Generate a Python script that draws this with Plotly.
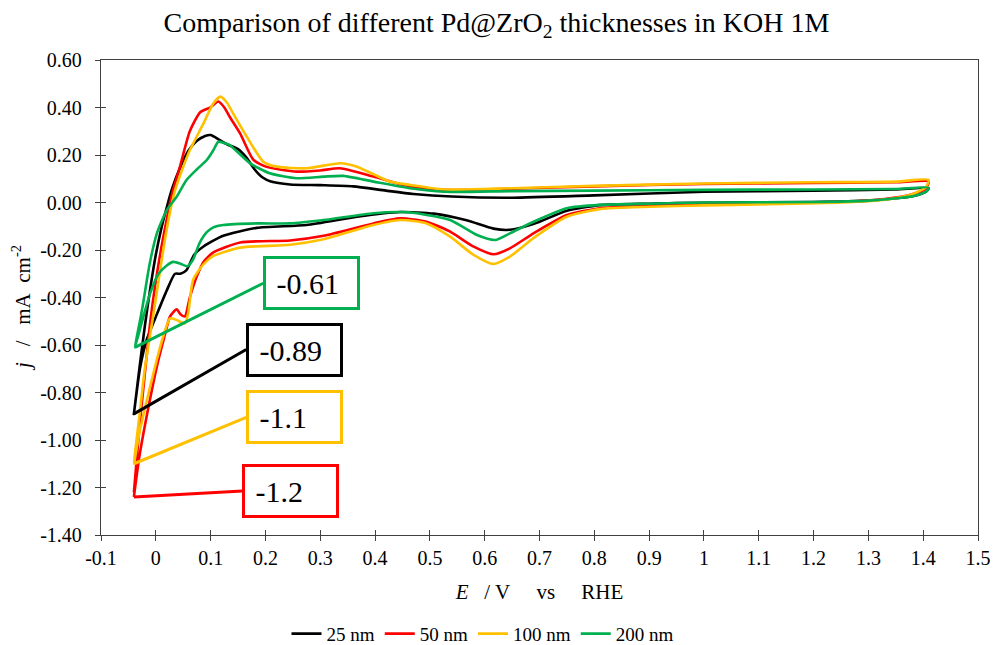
import plotly.graph_objects as go

# ---------------- data ----------------
names = ["25 nm", "50 nm", "100 nm", "200 nm"]
colors = ["#000000", "#FF0000", "#FFC000", "#00B050"]

e_25 = [-0.040, -0.030, -0.020, -0.010, 0.000, 0.010, 0.020, 0.030, 0.045, 0.060, 0.075, 0.090, 0.100,
        0.115, 0.130, 0.150, 0.165, 0.180, 0.195, 0.210, 0.245, 0.300, 0.360, 0.420, 0.470, 0.540, 0.650,
        0.800, 1.000, 1.200, 1.350, 1.410,
        1.405, 1.390, 1.360, 1.300, 1.200, 1.000, 0.900, 0.810, 0.750, 0.690, 0.646, 0.616, 0.567, 0.507,
        0.446, 0.367, 0.275, 0.184, 0.123, 0.087, 0.070, 0.056, 0.045, 0.035, 0.020, 0.002, -0.017,
        -0.029, -0.040]
j_25 = [-0.89, -0.70, -0.52, -0.36, -0.22, -0.11, -0.02, 0.06, 0.15, 0.22, 0.26, 0.28, 0.284,
        0.265, 0.245, 0.225, 0.19, 0.14, 0.105, 0.088, 0.076, 0.073, 0.068, 0.050, 0.036, 0.025, 0.020,
        0.030, 0.045, 0.050, 0.055, 0.060,
        0.045, 0.032, 0.020, 0.008, 0.002, -0.001, -0.005, -0.011, -0.035, -0.090, -0.115, -0.110, -0.075, -0.047,
        -0.040, -0.060, -0.095, -0.107, -0.140, -0.185, -0.220, -0.285, -0.300, -0.300, -0.370, -0.470, -0.580,
        -0.700, -0.890]

e_50 = [-0.040, -0.030, -0.020, -0.010, 0.000, 0.010, 0.020, 0.030, 0.044, 0.062, 0.081, 0.099, 0.114,
        0.125, 0.135, 0.154, 0.178, 0.202, 0.257, 0.300, 0.336, 0.397, 0.464, 0.525, 0.650, 0.800, 1.000,
        1.200, 1.350, 1.410,
        1.405, 1.380, 1.330, 1.250, 1.100, 1.000, 0.900, 0.810, 0.750, 0.689, 0.646, 0.616, 0.580, 0.537,
        0.494, 0.446, 0.397, 0.306, 0.245, 0.154, 0.105, 0.087, 0.075, 0.062, 0.053, 0.045, 0.038, 0.026,
        0.014, 0.002, -0.015, -0.030, -0.040]
j_50 = [-1.22, -0.95, -0.72, -0.50, -0.33, -0.19, -0.07, 0.04, 0.15, 0.30, 0.38, 0.40, 0.425,
        0.40, 0.36, 0.29, 0.18, 0.15, 0.13, 0.135, 0.144, 0.109, 0.067, 0.053, 0.058, 0.068, 0.078,
        0.082, 0.085, 0.088,
        0.060, 0.035, 0.015, 0.003, -0.005, -0.008, -0.015, -0.024, -0.053, -0.130, -0.193, -0.218, -0.186, -0.123,
        -0.081, -0.067, -0.088, -0.140, -0.160, -0.168, -0.210, -0.250, -0.310, -0.400, -0.480, -0.470, -0.450, -0.480,
        -0.580, -0.690, -0.880, -1.070, -1.240]

e_100 = [-0.040, -0.030, -0.020, -0.005, 0.005, 0.015, 0.025, 0.035, 0.050, 0.062, 0.087, 0.105, 0.118,
         0.130, 0.141, 0.166, 0.196, 0.221, 0.275, 0.336, 0.367, 0.427, 0.464, 0.525, 0.650, 0.800, 1.000,
         1.200, 1.350, 1.410,
         1.405, 1.380, 1.330, 1.250, 1.100, 1.000, 0.900, 0.810, 0.750, 0.689, 0.646, 0.616, 0.580, 0.537,
         0.494, 0.446, 0.397, 0.306, 0.245, 0.154, 0.105, 0.087, 0.068, 0.059, 0.053, 0.038, 0.026, 0.014,
         0.002, -0.015, -0.030, -0.040]
j_100 = [-1.10, -0.90, -0.70, -0.48, -0.33, -0.18, -0.05, 0.05, 0.15, 0.22, 0.333, 0.418, 0.446,
         0.42, 0.375, 0.277, 0.172, 0.151, 0.144, 0.165, 0.151, 0.088, 0.074, 0.055, 0.060, 0.070, 0.080,
         0.085, 0.088, 0.095,
         0.065, 0.035, 0.012, 0.000, -0.008, -0.012, -0.018, -0.028, -0.060, -0.150, -0.228, -0.259, -0.221, -0.144,
         -0.088, -0.074, -0.095, -0.155, -0.178, -0.190, -0.225, -0.260, -0.326, -0.467, -0.509, -0.495, -0.488, -0.560,
         -0.660, -0.820, -0.970, -1.100]

e_200 = [-0.038, -0.025, -0.011, 0.002, 0.020, 0.038, 0.056, 0.075, 0.093, 0.105, 0.114, 0.125, 0.135,
         0.172, 0.208, 0.257, 0.306, 0.342, 0.397, 0.464, 0.525, 0.650, 0.800, 1.000, 1.200, 1.350, 1.410,
         1.405, 1.390, 1.360, 1.300, 1.200, 1.000, 0.900, 0.810, 0.750, 0.689, 0.646, 0.619, 0.586, 0.537,
         0.476, 0.446, 0.397, 0.306, 0.245, 0.184, 0.123, 0.105, 0.093, 0.080, 0.068, 0.058, 0.045, 0.032,
         0.020, 0.005, -0.010, -0.025, -0.038]
j_200 = [-0.61, -0.45, -0.256, -0.13, -0.032, 0.024, 0.095, 0.14, 0.179, 0.22, 0.256, 0.25, 0.242,
         0.165, 0.123, 0.102, 0.109, 0.112, 0.088, 0.060, 0.045, 0.048, 0.050, 0.053, 0.055, 0.057, 0.062,
         0.045, 0.032, 0.020, 0.008, 0.002, 0.000, -0.005, -0.010, -0.024, -0.081, -0.130, -0.158, -0.137, -0.074,
         -0.045, -0.040, -0.045, -0.074, -0.088, -0.088, -0.095, -0.105, -0.125, -0.170, -0.240, -0.268, -0.258, -0.250,
         -0.265, -0.300, -0.380, -0.500, -0.610]

e_series = [e_25, e_50, e_100, e_200]
j_series = [j_25, j_50, j_100, j_200]

# values written in the callout boxes
callout_labels = ["-0.89", "-1.2", "-1.1", "-0.61"]

x_tickvals = [-0.1, 0, 0.1, 0.2, 0.3, 0.4, 0.5, 0.6, 0.7, 0.8, 0.9, 1.0, 1.1, 1.2, 1.3, 1.4, 1.5]
x_ticktext = ["-0.1", "0", "0.1", "0.2", "0.3", "0.4", "0.5", "0.6", "0.7", "0.8", "0.9", "1",
              "1.1", "1.2", "1.3", "1.4", "1.5"]
y_tickvals = [0.6, 0.4, 0.2, 0.0, -0.2, -0.4, -0.6, -0.8, -1.0, -1.2, -1.4]
y_ticktext = ["0.60", "0.40", "0.20", "0.00", "-0.20", "-0.40", "-0.60", "-0.80", "-1.00", "-1.20", "-1.40"]

# ---------------- figure ----------------
FONT = "Liberation Serif, Times New Roman, serif"
fig = go.Figure()

for name, col, e, j in zip(names, colors, e_series, j_series):
    fig.add_trace(go.Scatter(x=e, y=j, mode="lines", name=name,
                             line=dict(color=col, width=2.6, shape="spline", smoothing=0.6)))

# helper overlay axes to draw the outside half of the crossing tick marks
fig.add_trace(go.Scatter(x=[None], y=[None], xaxis="x2", yaxis="y2", showlegend=False, hoverinfo="skip"))

# callout boxes: left edge (x) and vertical middle (y) of each box, in data units
box_pos = [(0.165, -0.619), (0.158, -1.215), (0.165, -0.905), (0.196, -0.340)]
for (bx, by), lab, col, e, j in zip(box_pos, callout_labels, colors, e_series, j_series):
    k = min(range(len(j)), key=lambda i: j[i])
    fig.add_annotation(x=e[k], y=j[k], xref="x", yref="y",
                       ax=bx, ay=by, axref="x", ayref="y",
                       text="\u00a0" + lab, showarrow=True, arrowhead=0, arrowwidth=3, arrowcolor=col,
                       bordercolor=col, borderwidth=3, borderpad=3, bgcolor="white",
                       width=85, height=42, align="left", xanchor="left", yanchor="middle",
                       font=dict(family=FONT, size=30, color="black"))

# y-axis title (placed as a rotated annotation so it can sit slightly below the axis centre)
fig.add_annotation(text="<i>j</i>\u00a0\u00a0 /\u00a0\u00a0 mA\u00a0 cm<sup>-2</sup>",
                   xref="paper", yref="paper", x=-0.0901, y=0.478, textangle=-90,
                   showarrow=False, xanchor="center", yanchor="middle",
                   font=dict(family=FONT, size=21, color="black"))

axis_common = dict(showgrid=False, zeroline=False, showline=True, linecolor="#404040", linewidth=1.3,
                   mirror=True, ticks="inside", ticklen=5, tickwidth=1.3, tickcolor="#404040",
                   automargin=False,
                   tickfont=dict(family=FONT, size=20, color="black"))

fig.update_layout(
    width=993, height=645,
    margin=dict(l=101, r=15, t=60, b=110, autoexpand=False),
    paper_bgcolor="white", plot_bgcolor="white",
    title=dict(text="Comparison of different Pd@ZrO<sub>2</sub> thicknesses in KOH 1M",
               x=0.5, xanchor="center", y=0.966, yanchor="middle", automargin=False,
               font=dict(family=FONT, size=28, color="black")),
    xaxis=dict(range=[-0.1, 1.5], tickvals=x_tickvals, ticktext=x_ticktext, ticklabelstandoff=5,
               title=dict(text="<i>E</i>\u00a0\u00a0 / V\u00a0\u00a0\u00a0\u00a0 vs\u00a0\u00a0\u00a0\u00a0 RHE",
                          font=dict(family=FONT, size=21, color="black"), standoff=16),
               **axis_common),
    yaxis=dict(range=[-1.4, 0.6], tickvals=y_tickvals, ticktext=y_ticktext, ticklabelstandoff=14,
               **axis_common),
    xaxis2=dict(range=[-0.1, 1.5], overlaying="x", anchor="y2", side="bottom", tickvals=x_tickvals,
                showticklabels=False, showgrid=False, zeroline=False, showline=False,
                ticks="outside", ticklen=5, tickwidth=1.3, tickcolor="#404040"),
    yaxis2=dict(range=[-1.4, 0.6], overlaying="y", anchor="x2", side="left", tickvals=y_tickvals,
                showticklabels=False, showgrid=False, zeroline=False, showline=False,
                ticks="outside", ticklen=5, tickwidth=1.3, tickcolor="#404040"),
    legend=dict(orientation="h", x=0.435, xanchor="center", y=-0.208, yanchor="middle",
                font=dict(family=FONT, size=19, color="black"), itemwidth=30),
    showlegend=True,
)

# remove the default 8px page margin so the figure fills the 993x645 window exactly
fig.write_html("out.html", config={"displayModeBar": False},
               post_script="document.body.style.margin='0px';document.body.style.overflow='hidden';")
